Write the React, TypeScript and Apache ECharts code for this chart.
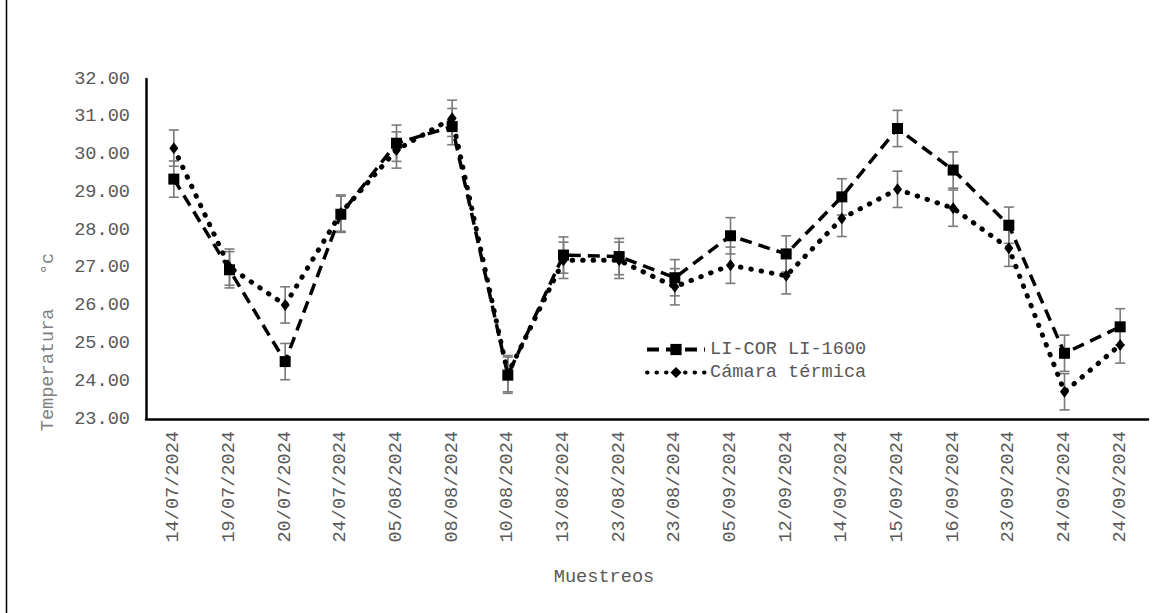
import React, { useEffect, useRef } from "react";
import * as echarts from "echarts";

const categories = [
  "14/07/2024", "19/07/2024", "20/07/2024", "24/07/2024", "05/08/2024", "08/08/2024",
  "10/08/2024", "13/08/2024", "23/08/2024", "23/08/2024", "05/09/2024", "12/09/2024",
  "14/09/2024", "15/09/2024", "16/09/2024", "23/09/2024", "24/09/2024", "24/09/2024",
];
const licor = [29.35, 26.95, 24.52, 28.42, 30.3, 30.74, 24.16, 27.34, 27.3, 26.74, 27.85, 27.37, 28.88, 30.69, 29.59, 28.13, 24.74, 25.44];
const camara = [30.17, 27.02, 26.02, 28.45, 30.12, 30.96, 24.2, 27.2, 27.2, 26.5, 27.07, 26.79, 28.31, 29.08, 28.58, 27.52, 23.72, 24.96];
const licorErr = [0.48, 0.48, 0.48, 0.48, 0.48, 0.48, 0.48, 0.48, 0.48, 0.48, 0.48, 0.48, 0.48, 0.48, 0.48, 0.48, 0.48, 0.48];
const camaraErr = [0.48, 0.48, 0.48, 0.48, 0.48, 0.48, 0.48, 0.48, 0.48, 0.48, 0.48, 0.48, 0.48, 0.48, 0.48, 0.48, 0.48, 0.48];
const yTicks = { min: 23, max: 32, interval: 1 };

const FONT = "Liberation Mono";
const FS = 18.6;
const GREY = "#595959";

function errorSeries(values: number[], errs: number[]) {
  return {
    type: "custom",
    silent: true,
    z: 1,
    data: values.map((v, i) => [i, v - errs[i], v + errs[i]]),
    renderItem: (params: any, api: any) => {
      const lo = api.coord([api.value(0), api.value(1)]);
      const hi = api.coord([api.value(0), api.value(2)]);
      const hw = 5;
      const style = { stroke: "#7a7a7a", lineWidth: 1.6 };
      return {
        type: "group",
        children: [
          { type: "line", shape: { x1: lo[0], y1: lo[1], x2: hi[0], y2: hi[1] }, style },
          { type: "line", shape: { x1: lo[0] - hw, y1: lo[1], x2: lo[0] + hw, y2: lo[1] }, style },
          { type: "line", shape: { x1: hi[0] - hw, y1: hi[1], x2: hi[0] + hw, y2: hi[1] }, style },
        ],
      };
    },
  };
}

export default function App() {
  const ref = useRef<HTMLDivElement>(null);
  useEffect(() => {
    const chart = echarts.init(ref.current!, undefined, { renderer: "svg" });
    chart.setOption({
      animation: false,
      backgroundColor: "#ffffff",
      grid: { left: 146, right: 19, top: 79, bottom: 194, containLabel: false },
      legend: {
        orient: "vertical",
        left: 640,
        top: 335,
        itemWidth: 58,
        itemHeight: 14,
        itemGap: 4,
        textStyle: { fontFamily: FONT, fontSize: FS, color: GREY },
        data: [
          { name: "LI-COR LI-1600", lineStyle: { width: 4, type: [12, 7] } },
          { name: "Cámara térmica", lineStyle: { width: 4, type: [0.5, 9], cap: "round" } },
        ],
      },
      xAxis: {
        type: "category",
        data: categories,
        boundaryGap: true,
        axisLine: { lineStyle: { color: "#000", width: 2.5 } },
        axisTick: { show: false },
        axisLabel: { rotate: 90, margin: 12, fontFamily: FONT, fontSize: FS, color: GREY, interval: 0 },
        splitLine: { show: false },
      },
      yAxis: {
        type: "value",
        min: yTicks.min,
        max: yTicks.max,
        interval: yTicks.interval,
        axisLine: { show: true, lineStyle: { color: "#000", width: 2.5 } },
        axisTick: { show: false },
        splitLine: { show: false },
        axisLabel: { margin: 16, fontFamily: FONT, fontSize: FS, color: GREY, formatter: (v: number) => v.toFixed(2) },
      },
      graphic: [
        { type: "line", shape: { x1: 6.5, y1: 0, x2: 6.5, y2: 613 }, style: { stroke: "#000", lineWidth: 1.5 } },
        {
          type: "text",
          x: 48,
          y: 342,
          rotation: Math.PI / 2,
          style: {
            text: "Temperatura   °c",
            fontFamily: FONT,
            fontSize: FS,
            fill: "#7f7f7f",
            align: "center",
            verticalAlign: "middle",
          },
        },
        {
          type: "text",
          x: 604,
          y: 577,
          style: {
            text: "Muestreos",
            fontFamily: FONT,
            fontSize: FS,
            fill: GREY,
            align: "center",
            verticalAlign: "middle",
          },
        },
      ],
      series: [
        errorSeries(licor, licorErr),
        errorSeries(camara, camaraErr),
        {
          name: "LI-COR LI-1600",
          type: "line",
          z: 3,
          data: licor,
          symbol: "rect",
          symbolSize: 11,
          itemStyle: { color: "#000" },
          lineStyle: { color: "#000", width: 3.5, type: [12, 7] },
        },
        {
          name: "Cámara térmica",
          type: "line",
          z: 3,
          data: camara,
          symbol: "diamond",
          symbolSize: [9, 12],
          itemStyle: { color: "#000" },
          lineStyle: { color: "#000", width: 5, type: [0.5, 10], cap: "round" },
        },
      ],
    });
    return () => chart.dispose();
  }, []);
  return (
    <div style={{ position: "absolute", left: 0, top: 0, width: 1167, height: 613, background: "#fff" }}>
      <div ref={ref} style={{ width: 1167, height: 613 }} />
    </div>
  );
}
